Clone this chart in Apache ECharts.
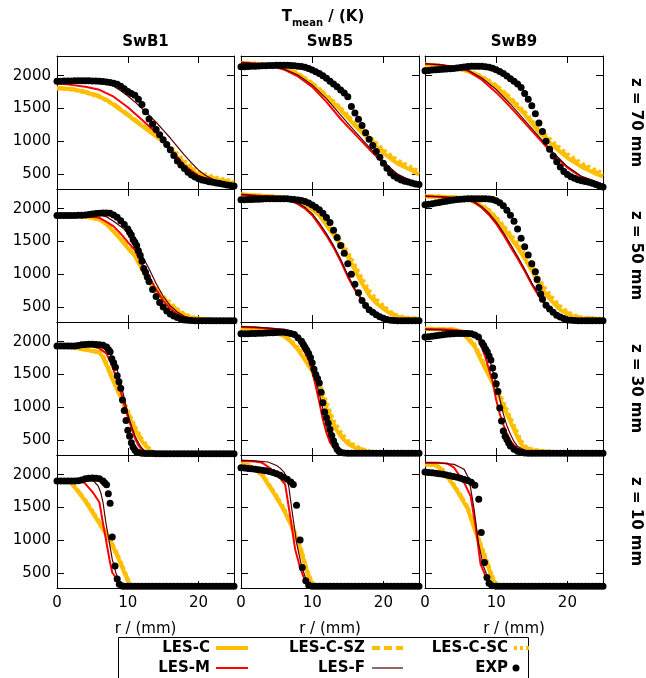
<!DOCTYPE html>
<html><head><meta charset="utf-8">
<script src="https://cdn.jsdelivr.net/npm/echarts@6/dist/echarts.min.js"></script>
<style>html,body{margin:0;padding:0;background:#fff}#c{width:646px;height:678px}</style>
</head><body><div id="c"></div><script>
// ================= DATA =================
const ROW_LABELS = ['z = 70 mm','z = 50 mm','z = 30 mm','z = 10 mm'];
const COL_LABELS = ['SwB1','SwB5','SwB9'];
const SERIES_NAMES = ['LES-C','LES-C-SZ','LES-C-SC','LES-M','LES-F','EXP'];
const X_TICKS = [0,10,20];
const Y_TICKS = [500,1000,1500,2000];
const X_RANGE = [0,25];
const Y_RANGE = [273,2300];

// ---- z = 70 mm, SwB1 ----
const LESC_z70_B1 = [[0,1810],[1,1805],[2,1795],[3,1775],[4,1750],[5,1715],[6,1680],[7,1630],[8,1555],[9,1480],[10,1400],[11,1315],[12,1235],[13,1155],[14,1075],[15,995],[16,880],[17,760],[18,650],[19,555],[20,490],[21,455],[22,430],[23,405],[24,380],[25,360]];
const LESCSZ_z70_B1 = [[0,1815],[2,1800],[4,1755],[6,1690],[8,1570],[10,1410],[12,1245],[14,1085],[16,895],[18,665],[20,505],[22,440],[25,370]];
const LESCSC_z70_B1 = [[0,1805],[2,1790],[4,1745],[6,1675],[8,1560],[10,1405],[12,1250],[14,1100],[16,920],[18,700],[20,530],[22,460],[25,385]];
const LESM_z70_B1 = [[0,1885],[2,1860],[4,1830],[6,1785],[8,1680],[10,1520],[12,1330],[14,1130],[16,890],[18,630],[20,470],[22,400],[25,335]];
const LESF_z70_B1 = [[0,1915],[2,1915],[4,1912],[6,1900],[7,1880],[8,1840],[9,1770],[10,1690],[11,1600],[12,1500],[13,1400],[14,1290],[15,1170],[16,1050],[17,920],[18,790],[19,670],[20,560],[21,480],[22,420],[23,385],[24,360],[25,340]];
const EXP_z70_B1 = [[0,1915],[0.5,1915],[1,1918],[1.5,1920],[2,1920],[2.5,1922],[3,1922],[3.5,1924],[4,1924],[4.5,1922],[5,1920],[5.5,1918],[6,1915],[6.5,1910],[7,1905],[7.5,1895],[8,1885],[8.5,1868],[9,1840],[9.5,1800],[10,1760],[10.5,1730],[11,1700],[11.5,1640],[12,1560],[12.5,1450],[13,1340],[13.5,1260],[14,1180],[14.5,1100],[15,1025],[15.5,950],[16,870],[16.5,785],[17,700],[17.5,640],[18,585],[18.5,530],[19,485],[19.5,455],[20,430],[20.5,410],[21,398],[21.5,385],[22,375],[22.5,365],[23,355],[23.5,345],[24,335],[24.5,325],[25,318]];

// ---- z = 70 mm, SwB5 ----
const LESC_z70_B5 = [[0,2190],[2,2180],[4,2160],[6,2115],[8,2020],[10,1870],[12,1680],[14,1480],[16,1240],[18,1030],[20,820],[22,660],[24,555],[25,495]];
const LESCSZ_z70_B5 = [[0,2192],[2,2182],[4,2162],[6,2120],[8,2030],[10,1880],[12,1695],[14,1495],[16,1260],[18,1050],[20,845],[22,685],[24,575],[25,515]];
const LESCSC_z70_B5 = [[0,2195],[2,2185],[4,2165],[6,2125],[8,2035],[10,1890],[12,1705],[14,1510],[16,1280],[18,1075],[20,870],[22,710],[24,600],[25,540]];
const LESM_z70_B5 = [[0,2200],[2,2185],[4,2160],[6,2095],[8,1990],[10,1830],[12,1600],[14,1340],[16,1110],[18,880],[20,665],[22,485],[24,385],[25,360]];
const LESF_z70_B5 = [[0,2200],[2,2185],[4,2162],[6,2105],[8,2010],[10,1860],[12,1650],[14,1400],[16,1150],[18,910],[20,690],[22,500],[24,390],[25,360]];
const EXP_z70_B5 = [[0,2135],[0.5,2138],[1,2140],[1.5,2142],[2,2145],[2.5,2148],[3,2150],[3.5,2152],[4,2155],[4.5,2157],[5,2158],[5.5,2160],[6,2160],[6.5,2158],[7,2155],[7.5,2150],[8,2145],[8.5,2140],[9,2130],[9.5,2110],[10,2085],[10.5,2060],[11,2035],[11.5,2000],[12,1960],[12.5,1915],[13,1875],[13.5,1830],[14,1780],[14.5,1735],[15,1680],[15.5,1530],[16,1430],[16.5,1335],[17,1240],[17.5,1130],[18,1030],[18.5,935],[19,845],[19.5,755],[20,665],[20.5,590],[21,515],[21.5,470],[22,435],[22.5,410],[23,392],[23.5,380],[24,365],[24.5,350],[25,340]];

// ---- z = 70 mm, SwB9 ----
const LESC_z70_B9 = [[0,2165],[2,2145],[4,2115],[6,2070],[8,1975],[10,1830],[12,1630],[14,1410],[16,1140],[18,930],[20,750],[22,610],[24,505],[25,465]];
const LESCSZ_z70_B9 = [[0,2168],[2,2150],[4,2120],[6,2075],[8,1985],[10,1845],[12,1650],[14,1430],[16,1165],[18,955],[20,775],[22,635],[24,530],[25,490]];
const LESCSC_z70_B9 = [[0,2170],[2,2152],[4,2122],[6,2080],[8,1990],[10,1855],[12,1665],[14,1450],[16,1190],[18,985],[20,805],[22,665],[24,560],[25,520]];
const LESM_z70_B9 = [[0,2180],[2,2165],[4,2135],[6,2075],[8,1935],[10,1745],[12,1520],[14,1280],[16,1040],[18,800],[20,600],[22,455],[24,380],[25,340]];
const LESF_z70_B9 = [[0,2182],[2,2168],[4,2140],[6,2085],[8,1965],[10,1790],[12,1565],[14,1320],[16,1070],[18,830],[20,615],[22,465],[24,385],[25,345]];
const EXP_z70_B9 = [[0,2075],[0.5,2080],[1,2085],[1.5,2090],[2,2095],[2.5,2098],[3,2102],[3.5,2106],[4,2110],[4.5,2118],[5,2125],[5.5,2132],[6,2140],[6.5,2145],[7,2145],[7.5,2145],[8,2142],[8.5,2138],[9,2130],[9.5,2115],[10,2090],[10.5,2065],[11,2035],[11.5,1995],[12,1955],[12.5,1915],[13,1875],[13.5,1820],[14,1730],[14.5,1640],[15,1540],[15.5,1420],[16,1280],[16.5,1150],[17,1000],[17.5,880],[18,775],[18.5,690],[19,610],[19.5,540],[20,495],[20.5,460],[21,435],[21.5,415],[22,400],[22.5,388],[23,375],[23.5,360],[24,340],[24.5,320],[25,305]];

// ---- z = 50 mm, SwB1 ----
const LESC_z50_B1 = [[0,1895],[2,1890],[4,1880],[6,1835],[7,1760],[8,1650],[9,1530],[10,1400],[11,1280],[12,1080],[13,880],[14,745],[15,620],[16,525],[17,440],[18,375],[19,340],[20,322],[22,305],[25,300]];
const LESCSZ_z50_B1 = [[0,1895],[2,1890],[4,1880],[6,1840],[7,1770],[8,1660],[9,1540],[10,1410],[11,1290],[12,1095],[13,900],[14,765],[15,640],[16,545],[17,455],[18,385],[19,345],[20,325],[22,305],[25,300]];
const LESCSC_z50_B1 = [[0,1895],[2,1892],[4,1882],[6,1842],[7,1775],[8,1665],[9,1550],[10,1420],[11,1300],[12,1110],[13,920],[14,785],[15,665],[16,565],[17,470],[18,395],[19,350],[20,328],[22,308],[25,300]];
const LESM_z50_B1 = [[0,1895],[2,1893],[4,1890],[6,1860],[7,1800],[8,1730],[9,1620],[10,1490],[11,1370],[12,1160],[13,960],[14,770],[15,600],[16,475],[17,395],[18,350],[19,320],[20,308],[22,300],[25,298]];
const LESF_z50_B1 = [[0,1900],[2,1905],[4,1915],[6,1910],[7,1875],[8,1810],[9,1730],[10,1640],[11,1480],[12,1290],[13,1085],[14,860],[15,665],[16,520],[17,425],[18,360],[19,325],[20,310],[22,300],[25,298]];
const EXP_z50_B1 = [[0,1898],[0.5,1898],[1,1898],[1.5,1898],[2,1898],[2.5,1898],[3,1900],[3.5,1900],[4,1905],[4.5,1912],[5,1920],[5.5,1928],[6,1932],[6.5,1935],[7,1935],[7.5,1932],[8,1905],[8.5,1870],[9,1815],[9.5,1760],[10,1690],[10.25,1640],[10.5,1600],[10.75,1530],[11,1490],[11.25,1440],[11.5,1360],[11.75,1290],[12,1200],[12.25,1090],[12.5,1030],[12.75,960],[13,890],[13.5,770],[14,660],[14.5,570],[15,500],[15.5,440],[16,395],[16.5,365],[17,340],[17.5,318],[18,305],[18.5,298],[19,295],[19.5,293],[20,292],[20.5,292],[21,292],[21.5,292],[22,292],[22.5,292],[23,292],[23.5,292],[24,292],[24.5,292],[25,292]];

// ---- z = 50 mm, SwB5 ----
const LESC_z50_B5 = [[0,2215],[2,2200],[4,2188],[6,2165],[8,2110],[9,2060],[10,1990],[11,1900],[12,1750],[13,1600],[14,1440],[15,1270],[16,1065],[17,860],[18,680],[19,560],[20,475],[21,400],[22,350],[23,330],[25,320]];
const LESCSZ_z50_B5 = [[0,2215],[2,2202],[4,2190],[6,2168],[8,2115],[9,2068],[10,2000],[11,1915],[12,1770],[13,1625],[14,1470],[15,1300],[16,1100],[17,895],[18,715],[19,590],[20,495],[21,415],[22,360],[23,335],[25,322]];
const LESCSC_z50_B5 = [[0,2218],[2,2205],[4,2192],[6,2170],[8,2120],[9,2075],[10,2010],[11,1930],[12,1790],[13,1650],[14,1500],[15,1335],[16,1140],[17,935],[18,750],[19,620],[20,520],[21,430],[22,370],[23,340],[25,325]];
const LESM_z50_B5 = [[0,2215],[2,2200],[4,2185],[6,2165],[8,2070],[9,2000],[10,1900],[11,1750],[12,1590],[13,1410],[14,1200],[15,960],[16,760],[17,600],[18,470],[19,395],[20,345],[21,320],[22,305],[25,298]];
const LESF_z50_B5 = [[0,2215],[2,2200],[4,2186],[6,2168],[8,2085],[9,2020],[10,1925],[11,1785],[12,1620],[13,1440],[14,1230],[15,990],[16,780],[17,615],[18,480],[19,400],[20,350],[21,322],[22,305],[25,298]];
const EXP_z50_B5 = [[0,2138],[0.5,2138],[1,2140],[1.5,2140],[2,2142],[2.5,2145],[3,2148],[3.5,2150],[4,2152],[4.5,2153],[5,2153],[5.5,2153],[6,2152],[6.5,2150],[7,2145],[7.5,2140],[8,2132],[8.5,2124],[9,2108],[9.5,2085],[10,2055],[10.5,2022],[11,1985],[11.5,1930],[12,1865],[12.5,1790],[13,1670],[13.5,1560],[14,1440],[14.5,1320],[15,1160],[15.5,1000],[16,850],[16.5,720],[17,600],[17.5,525],[18,460],[18.5,420],[19,385],[19.5,353],[20,330],[20.5,312],[21,300],[21.5,295],[22,293],[22.5,292],[23,292],[23.5,292],[24,292],[24.5,292],[25,292]];

// ---- z = 50 mm, SwB9 ----
const LESC_z50_B9 = [[0,2190],[2,2182],[4,2172],[6,2145],[7,2100],[8,2035],[9,1960],[10,1840],[11,1705],[12,1560],[13,1410],[14,1240],[15,1060],[16,850],[17,690],[18,570],[19,460],[20,395],[21,350],[22,330],[25,315]];
const LESCSZ_z50_B9 = [[0,2190],[2,2183],[4,2174],[6,2148],[7,2105],[8,2045],[9,1970],[10,1855],[11,1725],[12,1585],[13,1440],[14,1275],[15,1100],[16,890],[17,725],[18,600],[19,485],[20,410],[21,360],[22,335],[25,318]];
const LESCSC_z50_B9 = [[0,2192],[2,2185],[4,2176],[6,2150],[7,2110],[8,2052],[9,1980],[10,1870],[11,1745],[12,1610],[13,1470],[14,1310],[15,1140],[16,935],[17,765],[18,630],[19,510],[20,430],[21,372],[22,342],[25,320]];
const LESM_z50_B9 = [[0,2190],[2,2180],[4,2168],[6,2145],[7,2090],[8,2010],[9,1905],[10,1770],[11,1605],[12,1420],[13,1240],[14,1050],[15,845],[16,665],[17,515],[18,415],[19,355],[20,325],[21,312],[22,303],[25,298]];
const LESF_z50_B9 = [[0,2192],[2,2182],[4,2170],[6,2148],[7,2100],[8,2030],[9,1930],[10,1800],[11,1640],[12,1460],[13,1275],[14,1080],[15,870],[16,680],[17,525],[18,420],[19,358],[20,326],[21,312],[22,303],[25,298]];
const EXP_z50_B9 = [[0,2061],[0.5,2068],[1,2075],[1.5,2085],[2,2095],[2.5,2105],[3,2115],[3.5,2125],[4,2133],[4.5,2140],[5,2145],[5.5,2148],[6,2150],[6.5,2152],[7,2153],[7.5,2153],[8,2153],[8.5,2152],[9,2148],[9.5,2140],[10,2120],[10.5,2090],[11,2045],[11.5,1975],[12,1900],[12.5,1810],[13,1690],[13.5,1550],[14,1420],[14.5,1295],[15,1160],[15.5,1040],[15.75,920],[16,800],[16.25,700],[16.5,620],[17,530],[17.5,470],[18,420],[18.5,375],[19,350],[19.5,325],[20,305],[20.5,298],[21,295],[21.5,293],[22,292],[22.5,292],[23,292],[23.5,292],[24,292],[24.5,292],[25,292]];

// ---- z = 30 mm, SwB1 ----
const LESC_z30_B1 = [[0,1933],[2,1915],[4,1878],[6,1835],[6.5,1760],[7,1640],[7.5,1510],[8,1390],[9,1150],[10,900],[11,665],[12,480],[13,350],[13.5,315],[14,302],[16,298],[25,298]];
const LESCSZ_z30_B1 = [[0,1933],[2,1917],[4,1882],[6,1840],[6.5,1770],[7,1655],[7.5,1530],[8,1410],[9,1170],[10,920],[11,685],[12,495],[13,360],[13.5,320],[14,305],[16,298],[25,298]];
const LESCSC_z30_B1 = [[0,1933],[2,1918],[4,1885],[6,1845],[6.5,1780],[7,1670],[7.5,1550],[8,1430],[9,1195],[10,950],[11,710],[12,515],[13,375],[13.5,330],[14,308],[16,298],[25,298]];
const LESM_z30_B1 = [[0,1933],[2,1935],[4,1935],[5,1930],[6,1895],[6.5,1860],[7,1815],[7.5,1700],[8,1570],[8.5,1410],[9,1245],[9.5,1040],[10,860],[10.5,690],[11,530],[11.5,420],[12,350],[12.5,318],[13,305],[14,298],[25,298]];
const LESF_z30_B1 = [[0,1933],[2,1938],[4,1945],[5,1945],[6,1930],[6.5,1910],[7,1885],[7.5,1810],[8,1720],[8.5,1575],[9,1370],[9.5,1140],[10,900],[10.5,720],[11,570],[11.5,460],[12,375],[12.5,330],[13,305],[14,298],[25,298]];
const EXP_z30_B1 = [[0,1933],[0.5,1933],[1,1933],[1.5,1933],[2,1933],[2.5,1936],[3,1942],[3.5,1952],[4,1958],[4.5,1960],[5,1960],[5.5,1958],[6,1955],[6.5,1945],[7,1920],[7.25,1880],[7.5,1845],[7.75,1740],[8,1680],[8.25,1610],[8.5,1480],[8.75,1390],[9,1290],[9.25,1110],[9.5,950],[9.75,800],[10,650],[10.25,560],[10.5,460],[10.75,390],[11,350],[11.25,320],[11.5,310],[12,300],[12.5,296],[13,295],[13.5,294],[14,293],[14.5,293],[15,293],[15.5,293],[16,293],[16.5,293],[17,293],[17.5,293],[18,293],[18.5,293],[19,293],[19.5,293],[20,293],[20.5,293],[21,293],[21.5,293],[22,293],[22.5,293],[23,293],[23.5,293],[24,293],[24.5,293],[25,293]];

// ---- z = 30 mm, SwB5 ----
const LESC_z30_B5 = [[0,2210],[2,2195],[4,2170],[5,2130],[6,2090],[7,2000],[8,1880],[9,1720],[10,1550],[11,1300],[12,990],[13,720],[14,560],[15,445],[16,385],[17,345],[18,318],[19,305],[20,300],[25,298]];
const LESCSZ_z30_B5 = [[0,2212],[2,2197],[4,2172],[5,2135],[6,2095],[7,2010],[8,1895],[9,1740],[10,1570],[11,1330],[12,1020],[13,750],[14,585],[15,465],[16,400],[17,355],[18,322],[19,307],[20,300],[25,298]];
const LESCSC_z30_B5 = [[0,2215],[2,2200],[4,2175],[5,2140],[6,2100],[7,2020],[8,1910],[9,1760],[10,1600],[11,1370],[12,1070],[13,800],[14,620],[15,490],[16,415],[17,365],[18,328],[19,310],[20,302],[25,298]];
const LESM_z30_B5 = [[0,2222],[2,2215],[4,2200],[6,2185],[7,2140],[8,2020],[8.5,1930],[9,1835],[9.5,1725],[10,1550],[10.5,1320],[11,1080],[11.5,815],[12,610],[12.5,465],[13,385],[13.5,340],[14,318],[15,302],[25,298]];
const LESF_z30_B5 = [[0,2230],[2,2222],[4,2208],[6,2185],[7,2160],[8,2100],[8.5,2030],[9,1920],[9.5,1800],[10,1650],[10.5,1420],[11,1200],[11.5,980],[12,720],[12.5,520],[13,400],[13.5,345],[14,318],[15,302],[25,298]];
const EXP_z30_B5 = [[0,2120],[0.5,2120],[1,2122],[1.5,2124],[2,2126],[2.5,2128],[3,2130],[3.5,2133],[4,2136],[4.5,2138],[5,2140],[5.5,2142],[6,2142],[6.5,2138],[7,2125],[7.5,2108],[8,2060],[8.5,2005],[8.75,1960],[9,1915],[9.25,1870],[9.5,1820],[9.75,1760],[10,1680],[10.25,1580],[10.5,1500],[10.75,1440],[11,1370],[11.25,1230],[11.5,1070],[11.75,930],[12,840],[12.25,755],[12.5,660],[12.75,570],[13,490],[13.25,420],[13.5,360],[13.75,330],[14,315],[14.5,305],[15,300],[15.5,298],[16,298],[16.5,298],[17,298],[17.5,298],[18,298],[18.5,298],[19,298],[19.5,298],[20,298],[20.5,298],[21,298],[21.5,298],[22,298],[22.5,298],[23,298],[23.5,298],[24,298],[24.5,298],[25,298]];

// ---- z = 30 mm, SwB9 ----
const LESC_z30_B9 = [[0,2195],[2,2190],[4,2183],[5,2150],[6,2050],[7,1920],[8,1690],[9,1480],[10,1260],[11,1020],[12,780],[13,540],[13.5,440],[14,375],[15,345],[16,332],[18,315],[20,305],[25,300]];
const LESCSZ_z30_B9 = [[0,2197],[2,2192],[4,2185],[5,2155],[6,2060],[7,1935],[8,1710],[9,1500],[10,1285],[11,1045],[12,805],[13,565],[13.5,460],[14,390],[15,352],[16,335],[18,318],[20,306],[25,300]];
const LESCSC_z30_B9 = [[0,2200],[2,2195],[4,2188],[5,2160],[6,2070],[7,1950],[8,1730],[9,1525],[10,1315],[11,1080],[12,840],[13,600],[13.5,490],[14,410],[15,360],[16,340],[18,320],[20,308],[25,300]];
const LESM_z30_B9 = [[0,2195],[2,2190],[4,2180],[6,2160],[7,2100],[7.5,2035],[8,1900],[8.5,1760],[9,1570],[9.5,1390],[10,1110],[10.5,900],[11,735],[11.5,600],[12,490],[12.5,420],[13,375],[14,338],[15,315],[16,305],[25,300]];
const LESF_z30_B9 = [[0,2185],[2,2180],[4,2170],[6,2150],[7,2125],[7.5,2100],[8,2030],[8.5,1930],[9,1760],[9.5,1560],[10,1350],[10.5,1130],[11,900],[11.5,720],[12,590],[12.5,480],[13,405],[14,345],[15,315],[16,305],[25,300]];
const EXP_z30_B9 = [[0,2070],[0.5,2075],[1,2082],[1.5,2090],[2,2098],[2.5,2105],[3,2112],[3.5,2118],[4,2122],[4.5,2124],[5,2125],[5.5,2125],[6,2124],[6.5,2120],[7,2100],[7.5,2070],[8,1985],[8.25,1940],[8.5,1890],[8.75,1845],[9,1780],[9.25,1720],[9.5,1600],[9.75,1480],[10,1360],[10.25,1240],[10.5,990],[10.75,790],[11,640],[11.25,560],[11.5,510],[11.75,455],[12,410],[12.5,360],[13,330],[13.5,312],[14,303],[14.5,300],[15,298],[15.5,298],[16,298],[16.5,298],[17,298],[17.5,298],[18,298],[18.5,298],[19,298],[19.5,298],[20,298],[20.5,298],[21,298],[21.5,298],[22,298],[22.5,298],[23,298],[23.5,298],[24,298],[24.5,298],[25,298]];

// ---- z = 10 mm, SwB1 ----
const LESC_z10_B1 = [[0,1904],[1,1904],[1.8,1900],[2.5,1810],[3,1740],[4,1595],[5,1425],[6,1255],[7,1080],[7.5,990],[8,880],[8.5,765],[9,640],[9.5,510],[10,385],[10.3,320],[10.7,300],[25,298]];
const LESCSZ_z10_B1 = [[0,1904],[1,1904],[1.8,1902],[2.5,1815],[3,1748],[4,1605],[5,1438],[6,1268],[7,1095],[7.5,1003],[8,895],[8.5,780],[9,655],[9.5,525],[10,398],[10.3,328],[10.7,302],[25,298]];
const LESCSC_z10_B1 = [[0,1904],[1,1905],[1.8,1903],[2.5,1820],[3,1755],[4,1612],[5,1447],[6,1278],[7,1105],[7.5,1012],[8,905],[8.5,790],[9,668],[9.5,538],[10,410],[10.3,335],[10.7,305],[25,298]];
const LESM_z10_B1 = [[0,1904],[3,1905],[3.7,1900],[4.5,1800],[5.1,1725],[6,1575],[6.4,1320],[6.8,1080],[7.4,712],[7.8,510],[8.3,433],[8.7,360],[9,318],[9.5,300],[25,298]];
const LESF_z10_B1 = [[0,1904],[3,1906],[4.5,1910],[5.2,1900],[5.8,1830],[6.2,1720],[6.5,1575],[6.9,1270],[7.4,966],[7.8,712],[8.3,510],[8.7,400],[9,332],[9.5,305],[10,298],[25,298]];
const EXP_z10_B1 = [[0,1904],[0.5,1904],[1,1904],[1.5,1904],[2,1904],[2.5,1905],[3,1908],[3.5,1920],[4,1938],[4.5,1945],[5,1948],[5.5,1946],[6,1938],[6.5,1905],[6.75,1875],[7,1845],[7.25,1710],[7.5,1565],[7.8,1050],[8.2,610],[8.5,410],[8.8,332],[9.2,305],[9.5,300],[10,298],[10.5,298],[11,298],[11.5,298],[12,298],[12.5,298],[13,298],[13.5,298],[14,298],[14.5,298],[15,298],[15.5,298],[16,298],[16.5,298],[17,298],[17.5,298],[18,298],[18.5,298],[19,298],[19.5,298],[20,298],[20.5,298],[21,298],[21.5,298],[22,298],[22.5,298],[23,298],[23.5,298],[24,298],[24.5,298],[25,298]];

// ---- z = 10 mm, SwB5 ----
const LESC_z10_B5 = [[0,2157],[1,2145],[2,2080],[3,1990],[4,1820],[5,1650],[6,1465],[7,1240],[8,970],[8.5,810],[9,615],[9.5,450],[10,340],[10.5,305],[11,300],[25,298]];
const LESCSZ_z10_B5 = [[0,2160],[1,2148],[2,2085],[3,1996],[4,1830],[5,1660],[6,1478],[7,1255],[8,985],[8.5,825],[9,630],[9.5,462],[10,348],[10.5,308],[11,300],[25,298]];
const LESCSC_z10_B5 = [[0,2162],[1,2150],[2,2090],[3,2002],[4,1840],[5,1672],[6,1490],[7,1268],[8,1000],[8.5,840],[9,645],[9.5,475],[10,355],[10.5,310],[11,300],[25,298]];
const LESM_z10_B5 = [[0,2208],[2,2200],[3,2180],[4,2105],[5,2000],[5.5,1945],[6.2,1853],[6.9,1371],[7.6,864],[8.3,585],[9,383],[9.5,320],[10,302],[25,298]];
const LESF_z10_B5 = [[0,2222],[2,2210],[3.8,2193],[5,2140],[5.5,2100],[6.1,2030],[6.7,1828],[7.2,1422],[7.8,966],[8.5,611],[9.2,383],[9.7,320],[10.2,302],[25,298]];
const EXP_z10_B5 = [[0,2106],[0.5,2102],[1,2096],[1.5,2090],[2,2082],[2.5,2075],[3,2068],[3.5,2060],[4,2050],[4.5,2035],[5,2015],[5.5,1990],[6,1960],[6.5,1930],[7,1890],[7.35,1850],[7.8,1535],[8.3,1005],[8.6,585],[9.1,383],[9.5,317],[10,300],[10.5,298],[11,298],[11.5,298],[12,298],[12.5,298],[13,298],[13.5,298],[14,298],[14.5,298],[15,298],[15.5,298],[16,298],[16.5,298],[17,298],[17.5,298],[18,298],[18.5,298],[19,298],[19.5,298],[20,298],[20.5,298],[21,298],[21.5,298],[22,298],[22.5,298],[23,298],[23.5,298],[24,298],[24.5,298],[25,298]];

// ---- z = 10 mm, SwB9 ----
const LESC_z10_B9 = [[0,2157],[1,2150],[1.7,2130],[2.5,2060],[3,1990],[4,1835],[5,1665],[6,1480],[7,1160],[8,855],[8.5,712],[9,555],[9.5,410],[10,325],[10.5,302],[25,298]];
const LESCSZ_z10_B9 = [[0,2160],[1,2153],[1.7,2135],[2.5,2066],[3,1998],[4,1845],[5,1677],[6,1492],[7,1175],[8,870],[8.5,727],[9,570],[9.5,422],[10,332],[10.5,304],[25,298]];
const LESCSC_z10_B9 = [[0,2162],[1,2155],[1.7,2138],[2.5,2072],[3,2005],[4,1855],[5,1688],[6,1505],[7,1190],[8,885],[8.5,742],[9,585],[9.5,435],[10,340],[10.5,306],[25,298]];
const LESM_z10_B9 = [[0,2183],[2,2180],[3.1,2172],[4.1,2106],[5.5,1878],[6.4,1676],[7.1,1219],[7.8,636],[8.5,459],[9,380],[9.4,332],[10,305],[25,298]];
const LESF_z10_B9 = [[0,2185],[2,2178],[4.1,2157],[5,2110],[5.5,2081],[6.2,1929],[6.9,1473],[7.5,966],[8.2,611],[8.9,408],[9.4,330],[9.9,305],[25,298]];
const EXP_z10_B9 = [[0,2040],[0.5,2035],[1,2030],[1.5,2022],[2,2015],[2.5,2005],[3,1995],[3.5,1985],[4,1972],[4.5,1960],[5,1945],[5.5,1928],[6,1910],[6.5,1885],[7,1840],[7.55,1625],[7.9,1118],[8.35,662],[8.7,433],[9,347],[9.4,307],[10,300],[10.5,298],[11,298],[11.5,298],[12,298],[12.5,298],[13,298],[13.5,298],[14,298],[14.5,298],[15,298],[15.5,298],[16,298],[16.5,298],[17,298],[17.5,298],[18,298],[18.5,298],[19,298],[19.5,298],[20,298],[20.5,298],[21,298],[21.5,298],[22,298],[22.5,298],[23,298],[23.5,298],[24,298],[24.5,298],[25,298]];

// panel table [row][col] -> series arrays in SERIES_NAMES order
const PANELS = [
  [[LESC_z70_B1,LESCSZ_z70_B1,LESCSC_z70_B1,LESM_z70_B1,LESF_z70_B1,EXP_z70_B1],
   [LESC_z70_B5,LESCSZ_z70_B5,LESCSC_z70_B5,LESM_z70_B5,LESF_z70_B5,EXP_z70_B5],
   [LESC_z70_B9,LESCSZ_z70_B9,LESCSC_z70_B9,LESM_z70_B9,LESF_z70_B9,EXP_z70_B9]],
  [[LESC_z50_B1,LESCSZ_z50_B1,LESCSC_z50_B1,LESM_z50_B1,LESF_z50_B1,EXP_z50_B1],
   [LESC_z50_B5,LESCSZ_z50_B5,LESCSC_z50_B5,LESM_z50_B5,LESF_z50_B5,EXP_z50_B5],
   [LESC_z50_B9,LESCSZ_z50_B9,LESCSC_z50_B9,LESM_z50_B9,LESF_z50_B9,EXP_z50_B9]],
  [[LESC_z30_B1,LESCSZ_z30_B1,LESCSC_z30_B1,LESM_z30_B1,LESF_z30_B1,EXP_z30_B1],
   [LESC_z30_B5,LESCSZ_z30_B5,LESCSC_z30_B5,LESM_z30_B5,LESF_z30_B5,EXP_z30_B5],
   [LESC_z30_B9,LESCSZ_z30_B9,LESCSC_z30_B9,LESM_z30_B9,LESF_z30_B9,EXP_z30_B9]],
  [[LESC_z10_B1,LESCSZ_z10_B1,LESCSC_z10_B1,LESM_z10_B1,LESF_z10_B1,EXP_z10_B1],
   [LESC_z10_B5,LESCSZ_z10_B5,LESCSC_z10_B5,LESM_z10_B5,LESF_z10_B5,EXP_z10_B5],
   [LESC_z10_B9,LESCSZ_z10_B9,LESCSC_z10_B9,LESM_z10_B9,LESF_z10_B9,EXP_z10_B9]]
];

// ================= LAYOUT / STYLE =================
const FONT = 'DejaVu Sans';
const COL_LEFT = [57, 241, 425];
const COL_W = [177, 178, 178];
const ROW_TOP = [56, 189, 322, 455];
const ROW_H = 133;
const ORANGE = '#FFBF00';
const STYLES = {
  'LES-C':    {color: ORANGE, width: 4, type: 'solid'},
  'LES-C-SZ': {color: ORANGE, width: 4, type: [8, 4]},
  'LES-C-SC': {color: ORANGE, width: 4, type: [3, 3]},
  'LES-M':    {color: '#FF0000', width: 2, type: 'solid'},
  'LES-F':    {color: '#550000', width: 1.2, type: 'solid'}
};

const grids = [], xAxes = [], yAxes = [], series = [];
const blk = '#000';
for (let r = 0; r < 4; r++) {
  for (let c = 0; c < 3; c++) {
    const p = r * 3 + c;
    grids.push({left: COL_LEFT[c], top: ROW_TOP[r], width: COL_W[c], height: ROW_H, containLabel: false, outerBoundsMode: 'none'});
    const xBase = {
      gridIndex: p, type: 'value', min: X_RANGE[0], max: X_RANGE[1],
      axisLine: {show: true, onZero: false, lineStyle: {color: blk, width: 1}},
      axisTick: {show: true, inside: true, length: 7, customValues: X_TICKS, lineStyle: {color: blk, width: 1}},
      splitLine: {show: false}
    };
    xAxes.push(Object.assign({}, xBase, {
      position: 'bottom',
      axisLabel: {show: r === 3, customValues: X_TICKS, color: blk, fontSize: 15, fontFamily: FONT, margin: 8, formatter: v => String(v)},
      name: r === 3 ? 'r / (mm)' : '', nameLocation: 'middle', nameGap: 34,
      nameTextStyle: {color: blk, fontSize: 15, fontFamily: FONT}
    }));
    xAxes.push(Object.assign({}, xBase, {position: 'top', axisLabel: {show: false}}));
    const yBase = {
      gridIndex: p, type: 'value', min: Y_RANGE[0], max: Y_RANGE[1],
      axisLine: {show: true, onZero: false, lineStyle: {color: blk, width: 1}},
      axisTick: {show: true, inside: true, length: 7, customValues: Y_TICKS, lineStyle: {color: blk, width: 1}},
      splitLine: {show: false}
    };
    yAxes.push(Object.assign({}, yBase, {
      position: 'left',
      axisLabel: {show: c === 0, customValues: Y_TICKS, color: blk, fontSize: 15, fontFamily: FONT, margin: 6, formatter: v => String(v)}
    }));
    yAxes.push(Object.assign({}, yBase, {position: 'right', axisLabel: {show: false}}));

    const arrs = PANELS[r][c];
    SERIES_NAMES.forEach((name, k) => {
      if (name === 'EXP') {
        series.push({
          type: 'scatter', name, xAxisIndex: p * 2, yAxisIndex: p * 2, data: arrs[k],
          symbol: 'circle', symbolSize: 7, itemStyle: {color: blk, opacity: 1}, z: 10, silent: true
        });
      } else {
        const s = STYLES[name];
        series.push({
          type: 'line', name, xAxisIndex: p * 2, yAxisIndex: p * 2, data: arrs[k],
          symbol: 'none', showSymbol: false, clip: true, silent: true, z: 2 + k,
          lineStyle: {color: s.color, width: s.width, type: s.type, cap: 'butt', join: 'round'},
          itemStyle: {color: s.color}
        });
      }
    });
  }
}

// ---- legend (frame, handles, labels) ----
const LEG_ROWS_Y = [648, 668];
const LEG_TEXT_RIGHT = [210, 365, 508];
const LEG_ITEMS = [
  {name: 'LES-C', row: 0, col: 0, x0: 216, x1: 248},
  {name: 'LES-C-SZ', row: 0, col: 1, x0: 372, x1: 403},
  {name: 'LES-C-SC', row: 0, col: 2, x0: 514, x1: 530},
  {name: 'LES-M', row: 1, col: 0, x0: 216, x1: 248},
  {name: 'LES-F', row: 1, col: 1, x0: 372, x1: 403},
  {name: 'EXP', row: 1, col: 2, x0: 516, x1: 516}
];

const colCenters = COL_LEFT.map((l, i) => l + COL_W[i] / 2);
const graphic = [
  {type: 'text', x: 323, y: 17, style: {
    text: '{t|T}{s|mean}{t| / (K)}', align: 'center', verticalAlign: 'middle',
    rich: {
      t: {fontSize: 15, fontWeight: 'bold', fontFamily: FONT, lineHeight: 22, verticalAlign: 'middle', fill: blk},
      s: {fontSize: 10, fontWeight: 'bold', fontFamily: FONT, lineHeight: 10, verticalAlign: 'bottom', fill: blk}
    }}},
  {type: 'rect', shape: {x: 118.5, y: 637.5, width: 410, height: 50}, style: {fill: '#fff', stroke: blk, lineWidth: 1}, z: 50}
];
LEG_ITEMS.forEach(it => {
  const y = LEG_ROWS_Y[it.row];
  graphic.push({type: 'text', x: LEG_TEXT_RIGHT[it.col], y: y, z: 51,
    style: {text: it.name, fontSize: 15, fontWeight: 'bold', fontFamily: FONT, fill: blk, align: 'right', verticalAlign: 'middle'}});
  if (it.name === 'EXP') {
    graphic.push({type: 'circle', z: 51, shape: {cx: it.x0, cy: y, r: 3.5}, style: {fill: blk}});
  } else {
    const s = STYLES[it.name];
    graphic.push({type: 'line', z: 51, shape: {x1: it.x0, y1: y, x2: it.x1, y2: y},
      style: {stroke: s.color, lineWidth: s.width, lineDash: Array.isArray(s.type) ? s.type : null}});
  }
});
COL_LABELS.forEach((t, i) => graphic.push({type: 'text', x: colCenters[i], y: 42,
  style: {text: t, fontSize: 15, fontWeight: 'bold', fontFamily: FONT, fill: blk, align: 'center', verticalAlign: 'middle'}}));
ROW_LABELS.forEach((t, i) => graphic.push({type: 'text', x: 636, y: ROW_TOP[i] + ROW_H / 2, rotation: -Math.PI / 2,
  style: {text: t, fontSize: 15, fontWeight: 'bold', fontFamily: FONT, fill: blk, align: 'center', verticalAlign: 'middle'}}));

const chart = echarts.init(document.getElementById('c'), null, {renderer: 'canvas'});
chart.setOption({
  animation: false,
  backgroundColor: '#fff',
  textStyle: {fontFamily: FONT},
  grid: grids, xAxis: xAxes, yAxis: yAxes, series,
  graphic
});
</script></body></html>
